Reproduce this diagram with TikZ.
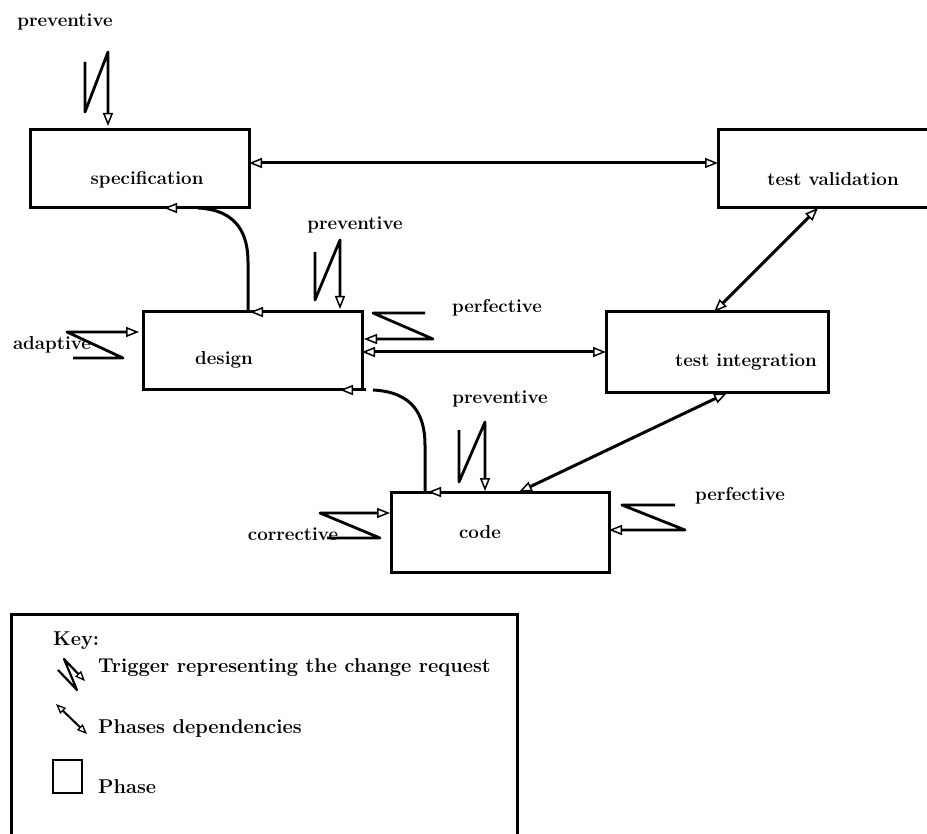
\documentclass[tikz,border=0pt]{standalone}
\usepackage{fontspec}
\usetikzlibrary{arrows.meta,calc}
\tikzset{
  phase/.style={draw, line width=3pt, inner sep=0pt, outer sep=0pt},
  lbl/.style={font=\fontsize{18.7}{22}\selectfont\bfseries, anchor=base, inner sep=0pt},
  keytext/.style={font=\fontsize{20}{24}\selectfont\bfseries, anchor=base west, inner sep=0pt},
  conn/.style={line width=3pt},
  otip/.tip={Triangle[fill=white,length=13pt,width=10pt,line width=1.5pt]},
  stip/.tip={Triangle[fill=white,length=10pt,width=8pt,line width=1.3pt]},
  dep/.style={conn, otip-otip},
  headonly/.style={conn, -otip},
  trig/.style={line width=2.8pt, line join=round, -otip},
}
\begin{document}
\begin{tikzpicture}[x=1pt,y=-1pt]
\useasboundingbox (0,0) rectangle (927,834);

% phases
\node[phase, minimum width=219pt, minimum height=78pt] (spec) at (139.5,169) {};
\node[phase, minimum width=216pt, minimum height=78pt] (testval) at (826,169) {};
\node[phase, minimum width=219pt, minimum height=78pt] (design) at (252.5,351) {};
\node[phase, minimum width=222pt, minimum height=81pt] (testint) at (717,352.5) {};
\node[phase, minimum width=218pt, minimum height=80pt] (code) at (500,532) {};

\node[lbl] (tspec) at (147,185) {specification};
\node[lbl] (ttestval) at (833,186) {test validation};
\node[lbl] (tdesign) at (224,365) {design};
\node[lbl] (ttestint) at (746,367) {test integration};
\node[lbl] (tcode) at (480,538) {code};

% phase dependencies
\draw[dep] (spec.east |- 0,163) -- (testval.west |- 0,163);
\draw[dep] (design.east |- 0,352) -- (testint.west |- 0,352);
\draw[dep] (testval.south -| 818,0) -- (testint.north -| 714,0);
\draw[dep] (testint.south -| 727,0) -- (code.north -| 519,0);

\draw[conn] (spec.south -| 198,0) .. controls (238,210) and (248,235) .. (248,262) -- (design.north -| 248,0);
\draw[headonly] (spec.south -| 192,0) -- (spec.south -| 164,0);
\draw[headonly] (design.north -| 276,0) -- (design.north -| 250,0);

\draw[conn] (design.south -| 373,0) .. controls (413,392) and (425,415) .. (425,445) -- (code.north -| 425,0);
\draw[headonly] (design.south -| 366,0) -- (design.south -| 340,0);
\draw[headonly] (code.north -| 454,0) -- (code.north -| 428,0);

% triggers
\coordinate (s1) at (85,62);
\draw[trig, shorten >=4pt] (s1) -- (85,112) -- (108,52) -- (spec.north -| 108,0);
\node[lbl] (p1) at (65,27) {preventive};

\coordinate (s2) at (315,252);
\draw[trig, shorten >=3pt] (s2) -- (315,300) -- (340,240) -- (design.north -| 340,0);
\node[lbl] (p2) at (355,230) {preventive};

\coordinate (s3) at (459,430);
\draw[trig, shorten >=1pt] (s3) -- (459,482) -- (485,422) -- (code.north -| 485,0);
\node[lbl] (p3) at (500,403) {preventive};

\coordinate (s4) at (73,358);
\draw[trig, shorten >=4pt] (s4) -- (123,358) -- (67,332) -- (design.west |- 0,332);
\node[lbl] (a1) at (52,350) {adaptive};

\coordinate (s5) at (425,313);
\draw[trig, shorten >=2pt] (s5) -- (373,313) -- (433,339) -- (design.east |- 0,339);
\node[lbl] (f1) at (497,313) {perfective};

\coordinate (s6) at (327,538);
\draw[trig, shorten >=1pt] (s6) -- (380,538) -- (320,513) -- (code.west |- 0,513);
\node[lbl] (c1) at (293,540) {corrective};

\coordinate (s7) at (675,505);
\draw[trig] (s7) -- (622,505) -- (685,530) -- (code.east |- 0,530);
\node[lbl] (f2) at (740,500) {perfective};

% key
\node[phase, minimum width=506pt, minimum height=232pt] (key) at (264,730) {};
\node[keytext] (kk) at (53,645) {Key:};
\coordinate (k1) at (58,670);
\draw[line width=2.2pt, line join=round, -stip] (k1) -- (77,690) -- (64,659) -- (85,681);
\node[keytext] (kt) at (98,672) {Trigger representing the change request};
\coordinate (k2a) at (56,704);
\coordinate (k2b) at (87,734);
\draw[line width=2pt, stip-stip] (k2a) -- (k2b);
\node[keytext] (kd) at (98,733) {Phases dependencies};
\node[phase, line width=2.6pt, minimum width=29pt, minimum height=33pt] (ksq) at (67.5,776.5) {};
\node[keytext] (kp) at (98,793) {Phase};
\end{tikzpicture}
\end{document}
